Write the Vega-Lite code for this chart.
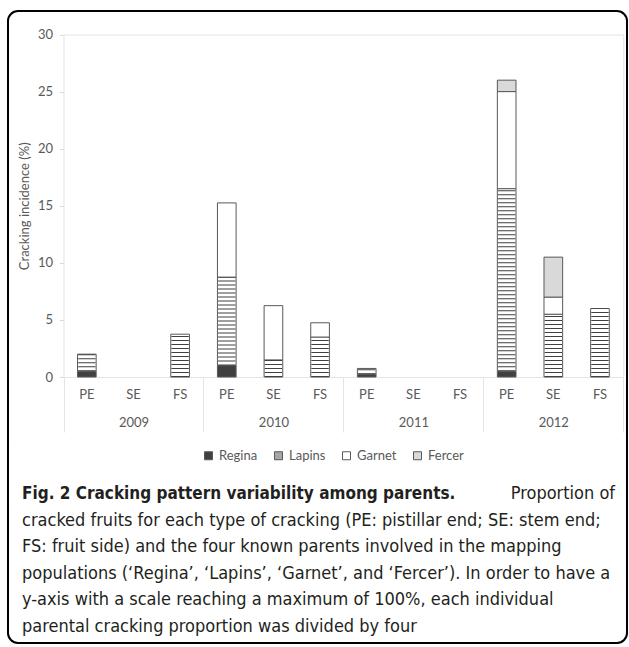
{
  "$schema": "https://vega.github.io/schema/vega-lite/v6.json",
  "width": 619,
  "height": 632,
  "autosize": "none",
  "padding": {"left": 8, "top": 11, "right": 2, "bottom": 4},
  "background": "white",
  "config": {
    "view": {"stroke": "#000000", "strokeWidth": 2, "cornerRadius": 10, "fill": "white"},
    "font": "Lato",
    "axis": {"labelFont": "Lato", "titleFont": "Lato"},
    "legend": {"labelFont": "Lato"}
  },
  "layer": [
    {
      "data": {
        "values": [
          {"year": "2009", "type": "PE", "parent": "Regina", "value": 0.5},
          {"year": "2009", "type": "PE", "parent": "Lapins", "value": 1.5},
          {"year": "2009", "type": "FS", "parent": "Lapins", "value": 3.75},
          {"year": "2010", "type": "PE", "parent": "Regina", "value": 1.0},
          {"year": "2010", "type": "PE", "parent": "Lapins", "value": 7.75},
          {"year": "2010", "type": "PE", "parent": "Garnet", "value": 6.5},
          {"year": "2010", "type": "SE", "parent": "Lapins", "value": 1.5},
          {"year": "2010", "type": "SE", "parent": "Garnet", "value": 4.75},
          {"year": "2010", "type": "FS", "parent": "Lapins", "value": 3.5},
          {"year": "2010", "type": "FS", "parent": "Garnet", "value": 1.25},
          {"year": "2011", "type": "PE", "parent": "Regina", "value": 0.25},
          {"year": "2011", "type": "PE", "parent": "Lapins", "value": 0.5},
          {"year": "2012", "type": "PE", "parent": "Regina", "value": 0.5},
          {"year": "2012", "type": "PE", "parent": "Lapins", "value": 16.0},
          {"year": "2012", "type": "PE", "parent": "Garnet", "value": 8.5},
          {"year": "2012", "type": "PE", "parent": "Fercer", "value": 1.0},
          {"year": "2012", "type": "SE", "parent": "Lapins", "value": 5.5},
          {"year": "2012", "type": "SE", "parent": "Garnet", "value": 1.5},
          {"year": "2012", "type": "SE", "parent": "Fercer", "value": 3.5},
          {"year": "2012", "type": "FS", "parent": "Lapins", "value": 6.0}
        ]
      },
      "transform": [
        {"stack": "value", "groupby": ["year", "type"], "as": ["v0", "v1"]}
      ],
      "layer": [
        {
          "mark": {"type": "bar", "stroke": "#595959", "strokeWidth": 1},
          "encoding": {
            "x": {
              "field": "year", "type": "ordinal",
              "scale": {"range": [55.5, 615.3], "paddingInner": 0, "paddingOuter": 0},
              "axis": {
                "orient": "bottom", "offset": -266, "title": null,
                "tickBand": "extent", "tickSize": 55, "tickColor": "#e3e3e3",
                "domainColor": "#e3e3e3", "labelPadding": -16, "labelFontSize": 13,
                "labelColor": "#595959", "labelAngle": 0, "grid": false
              }
            },
            "xOffset": {
              "field": "type", "type": "nominal",
              "scale": {"domain": ["PE", "SE", "FS"], "paddingInner": 0.6, "paddingOuter": 0.3}
            },
            "y": {
              "field": "v0", "type": "quantitative",
              "scale": {"domain": [0, 30], "range": [366, 23.5], "nice": false},
              "axis": {
                "orient": "left", "offset": -55.5, "values": [0, 5, 10, 15, 20, 25, 30],
                "tickSize": 4, "tickColor": "#d9d9d9", "domainColor": "#e3e3e3",
                "labelPadding": 7, "labelFontSize": 13, "labelColor": "#595959",
                "title": "Cracking incidence (%)", "titleFontSize": 13,
                "titleFontWeight": "normal", "titleColor": "#595959", "titlePadding": 6,
                "grid": false
              }
            },
            "y2": {"field": "v1"},
            "fill": {
              "field": "parent", "type": "nominal",
              "scale": {"domain": ["Regina", "Lapins", "Garnet", "Fercer"], "range": ["#404040", "#a6a6a6", "#ffffff", "#d9d9d9"]},
              "condition": {"test": "datum.parent === 'Lapins'", "value": "#ffffff"},
              "legend": {
                "orient": "none", "legendX": 194, "legendY": 438, "direction": "horizontal",
                "title": null, "symbolType": "square", "symbolSize": 64,
                "labelFontSize": 13, "labelColor": "#595959", "columnPadding": 14,
                "labelOffset": 4, "symbolStrokeColor": "#595959", "symbolStrokeWidth": 1
              }
            }
          }
        },
        {
          "transform": [{"filter": "datum.parent === 'Lapins'"}],
          "mark": {"type": "rule", "strokeWidth": 17.4, "strokeDash": [1, 3], "color": "#404040", "strokeCap": "butt"},
          "encoding": {
            "x": {
              "field": "year", "type": "ordinal",
              "axis": {"orient": "top", "offset": -23.5, "labels": false, "ticks": false, "domainColor": "#e3e3e3", "title": null, "grid": false}
            },
            "xOffset": {"field": "type", "type": "nominal"},
            "y": {
              "field": "v0", "type": "quantitative",
              "axis": {"orient": "right", "offset": -3.7, "labels": false, "ticks": false, "domainColor": "#e3e3e3", "title": null, "grid": false}
            },
            "y2": {"field": "v1"}
          }
        },
        {
          "data": {
            "values": [
              {"year": "2009", "type": "PE"}, {"year": "2009", "type": "SE"}, {"year": "2009", "type": "FS"},
              {"year": "2010", "type": "PE"}, {"year": "2010", "type": "SE"}, {"year": "2010", "type": "FS"},
              {"year": "2011", "type": "PE"}, {"year": "2011", "type": "SE"}, {"year": "2011", "type": "FS"},
              {"year": "2012", "type": "PE"}, {"year": "2012", "type": "SE"}, {"year": "2012", "type": "FS"}
            ]
          },
          "mark": {"type": "text", "fontSize": 13, "color": "#595959", "dy": 18, "font": "Lato"},
          "encoding": {
            "x": {"field": "year", "type": "ordinal", "axis": null},
            "xOffset": {"field": "type", "type": "nominal"},
            "y": {"datum": 0, "type": "quantitative", "axis": null},
            "text": {"field": "type"}
          }
        }
      ],
      "resolve": {"axis": {"x": "independent", "y": "independent"}}
    },
    {
      "layer": [
        {
          "data": {"values": [{"line": 1, "text": "Fig. 2 Cracking pattern variability among parents."}]},
          "mark": {"type": "text", "align": "left", "fontSize": 17, "fontWeight": "bold", "font": "DejaVu Sans Condensed", "color": "#231f20"},
          "encoding": {
            "x": {"datum": 0, "type": "quantitative", "scale": {"domain": [0, 1], "range": [14, 607]}, "axis": null},
            "y": {"field": "line", "type": "ordinal", "scale": {"type": "point", "domain": [1, 2, 3, 4, 5, 6], "range": [483, 616], "padding": 0}, "axis": null},
            "text": {"field": "text"}
          }
        },
        {
          "data": {"values": [{"line": 1, "text": "Proportion of"}]},
          "mark": {"type": "text", "align": "right", "fontSize": 18, "font": "DejaVu Sans Condensed", "color": "#231f20"},
          "encoding": {
            "x": {"datum": 1, "type": "quantitative"},
            "y": {"field": "line", "type": "ordinal"},
            "text": {"field": "text"}
          }
        },
        {
          "data": {
            "values": [
              {"line": 2, "text": "cracked fruits for each type of cracking (PE: pistillar end; SE: stem end;"},
              {"line": 3, "text": "FS: fruit side) and the four known parents involved in the mapping"},
              {"line": 4, "text": "populations (‘Regina’, ‘Lapins’, ‘Garnet’, and ‘Fercer’). In order to have a"},
              {"line": 5, "text": "y-axis with a scale reaching a maximum of 100%, each individual"},
              {"line": 6, "text": "parental cracking proportion was divided by four"}
            ]
          },
          "mark": {"type": "text", "align": "left", "fontSize": 18, "font": "DejaVu Sans Condensed", "color": "#231f20"},
          "encoding": {
            "x": {"datum": 0, "type": "quantitative"},
            "y": {"field": "line", "type": "ordinal"},
            "text": {"field": "text"}
          }
        }
      ]
    }
  ],
  "resolve": {"scale": {"x": "independent", "y": "independent"}}
}
